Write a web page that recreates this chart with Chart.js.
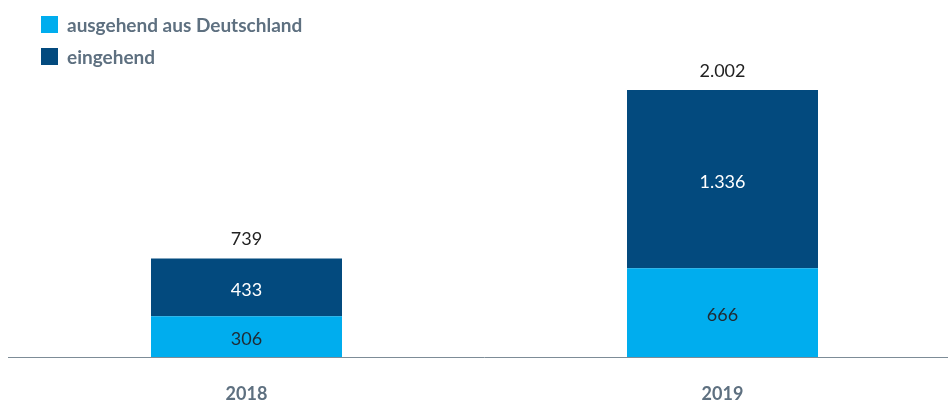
<!DOCTYPE html>
<html>
<head>
<meta charset="utf-8">
<script src="https://cdn.jsdelivr.net/npm/chart.js@4.4.1/dist/chart.umd.min.js"></script>
<style>
  html, body { margin: 0; padding: 0; background: #fff; overflow: hidden; }
  #wrap { position: relative; width: 962px; height: 403px; }
  .legend { position: absolute; left: 41px; top: 8px; font-family: Lato, sans-serif; font-weight: bold; font-size: 19px; color: #5e7080; }
  .legend div { display: flex; align-items: center; height: 32px; }
  .legend span { display: inline-block; width: 17px; height: 17px; margin-right: 9px; }
</style>
</head>
<body>
<div id="wrap">
  <canvas id="chart" width="962" height="403"></canvas>
  <div class="legend" id="legend"></div>
</div>
<script>
const years = ['2018', '2019'];
const outgoing = [306, 666];
const incoming = [433, 1336];
const totals = [739, 2002];
const seriesNames = ['ausgehend aus Deutschland', 'eingehend'];
const colors = ['#00adee', '#034a7e'];

document.getElementById('legend').innerHTML = seriesNames.map((n, i) =>
  `<div><span style="background:${colors[i]}"></span>${n}</div>`).join('');

const labelPlugin = {
  id: 'valueLabels',
  afterDatasetsDraw(chart) {
    const ctx = chart.ctx;
    ctx.save();
    ctx.font = '18px Lato, sans-serif';
    ctx.textAlign = 'center';
    ctx.textBaseline = 'middle';
    chart.data.datasets.forEach((ds, di) => {
      chart.getDatasetMeta(di).data.forEach((bar, i) => {
        const mid = (bar.y + bar.base) / 2 + 3;
        ctx.fillStyle = di === 0 ? '#1f2a33' : '#ffffff';
        ctx.fillText(ds.data[i].toLocaleString('de-DE'), bar.x, mid);
      });
    });
    const top = chart.getDatasetMeta(1).data;
    ctx.fillStyle = '#222';
    top.forEach((bar, i) => {
      ctx.fillText(totals[i].toLocaleString('de-DE'), bar.x, bar.y - 19);
    });
    ctx.restore();
  }
};

new Chart(document.getElementById('chart'), {
  type: 'bar',
  data: {
    labels: years,
    datasets: [
      { label: seriesNames[0], data: outgoing, backgroundColor: colors[0] },
      { label: seriesNames[1], data: incoming, backgroundColor: colors[1] }
    ]
  },
  options: {
    responsive: false,
    animation: false,
    layout: { padding: { left: 8.5, right: 1.5, top: 0, bottom: 0 } },
    datasets: { bar: { categoryPercentage: 1, barPercentage: 191 / 476 } },
    plugins: { legend: { display: false }, tooltip: { enabled: false } },
    scales: {
      x: {
        stacked: true,
        grid: { display: false, drawTicks: false },
        border: { display: true, color: '#7d8c97', width: 1 },
        ticks: { padding: 26, color: '#5e7080', font: { family: 'Lato, sans-serif', size: 18, weight: 'bold' } },
        afterFit: (s) => { s.height = 46; }
      },
      y: {
        stacked: true,
        display: false,
        min: 0,
        max: 2677
      }
    }
  },
  plugins: [labelPlugin]
});
</script>
</body>
</html>
